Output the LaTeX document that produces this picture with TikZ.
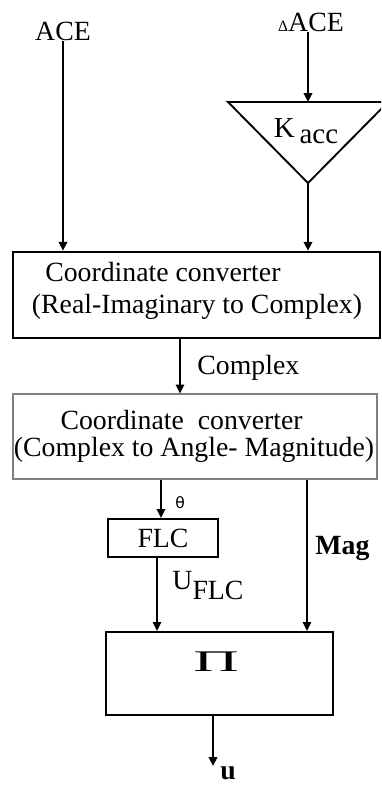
\documentclass[tikz,border=0pt]{standalone}
\usepackage{fontspec}
\usepackage{graphicx}
\setmainfont{Liberation Serif}
\newfontfamily\symfnt{DejaVu Sans}
\usetikzlibrary{arrows.meta}
\newcommand\pxu{0.45pt}
\begin{document}
\begin{tikzpicture}[x=0.45pt,y=-0.45pt,
  txt/.style={inner sep=0pt,font=\fontsize{12.5}{14.4}\selectfont},
  arr/.style={-{Triangle[length=4pt,width=3.8pt]},line width=0.85pt},
  thinarr/.style={-{Triangle[length=4pt,width=3.8pt]},line width=0.5pt},
  blockthick/.style={draw,line width=1.1pt,inner sep=0pt},
  blockgray/.style={draw=black!50,line width=0.5pt,inner sep=0pt}]
\useasboundingbox (0,0) rectangle (381,785);
\clip (0,0) rectangle (381,785);
% inputs
\node[txt] (ace) at (63,31) {ACE};
\node[txt] (dace) at (311,22) {{\fontsize{7}{8}\selectfont Δ}ACE};
% gain triangle
\coordinate (ktl) at (228,102);
\coordinate (ktr) at (388,102);
\coordinate (kbot) at (308,183);
\coordinate (ktop) at (308,102);
\draw[line width=0.85pt] (ktl) -- (ktr) -- (kbot) -- cycle;
\node[txt,font=\fontsize{13}{14}\selectfont] (kacc) at (306,131) {K\,\raisebox{-2.5pt}{acc}};
% box 1
\node[blockthick,minimum width=367*\pxu,minimum height=86*\pxu] (b1) at (196.5,295) {};
\node[txt,align=left] (b1t) at (197,291) {\hspace*{6pt}Coordinate converter\\(Real-Imaginary to Complex)};
% box 2
\node[blockgray,minimum width=364*\pxu,minimum height=85*\pxu] (b2) at (195,436.5) {};
\node[txt,align=left,font=\fontsize{12.5}{12.2}\selectfont] (b2t) at (194,436) {\hspace*{21pt}Coordinate\ \ converter\\(Complex to Angle- Magnitude)};
% FLC
\node[blockthick,line width=1pt,minimum width=110*\pxu,minimum height=38*\pxu,font=\fontsize{12.5}{14}\selectfont] (flc) at (163,538) {FLC};
% product
\node[blockthick,line width=0.95pt,minimum width=227*\pxu,minimum height=83*\pxu] (prod) at (219.5,673.5) {};
\node[inner sep=0pt] (pi) at (216,662) {\scalebox{2.1}[1]{\fontsize{13.5}{14}\selectfont Π}};
% helper coordinates for connector x positions
\coordinate (xc) at (180,0);
\coordinate (xth) at (161,0);
\coordinate (xu) at (157,0);
\coordinate (xm) at (307,0);
\coordinate (xo) at (213,0);
\coordinate (uend) at (213,766);
% connectors
\draw[arr] (ace.south) -- (ace.south |- b1.north);
\draw[arr] (dace.south -| ktop) -- (ktop);
\draw[arr] (kbot) -- (kbot |- b1.north);
\draw[thinarr] (b1.south -| xc) -- (b2.north -| xc);
\draw[arr] (b2.south -| xth) -- (flc.north -| xth);
\draw[arr,line width=0.7pt] (flc.south -| xu) -- (prod.north -| xu);
\draw[thinarr] (b2.south -| xm) -- (prod.north -| xm);
\draw[arr] (prod.south -| xo) -- (uend);
% labels
\node[txt,anchor=west] (lcx) at (197,368) {Complex};
\node[inner sep=0pt,anchor=west,font=\symfnt\fontsize{7}{8}\selectfont] (lth) at (175,503) {θ};
\node[txt,anchor=base west] (lu) at (172,589) {U\raisebox{-4.5pt}{FLC}};
\node[txt,anchor=west,font=\fontsize{12.5}{14}\selectfont\bfseries] (lmag) at (315,548) {Mag};
\node[txt,anchor=north west,font=\fontsize{12.5}{14}\selectfont\bfseries] (lout) at (220,766) {u};
\end{tikzpicture}
\end{document}
